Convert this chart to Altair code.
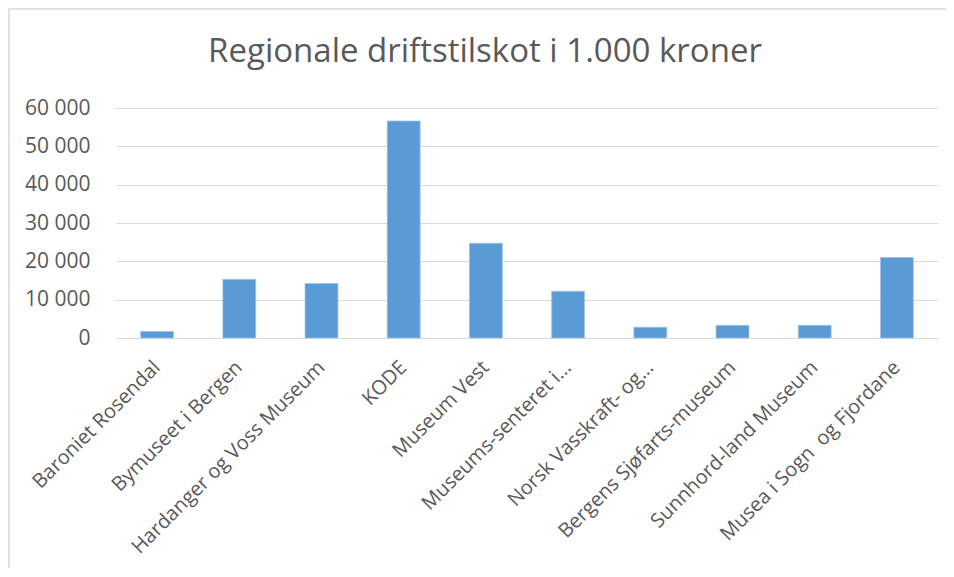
import altair as alt
import pandas as pd

categories = [
    "Baroniet Rosendal",
    "Bymuseet i Bergen",
    "Hardanger og Voss Museum",
    "KODE",
    "Museum Vest",
    "Museums-senteret i…",
    "Norsk Vasskraft- og…",
    "Bergens Sjøfarts-museum",
    "Sunnhord-land Museum",
    "Musea i Sogn \u00a0og Fjordane",
]
values = [1700, 15300, 14200, 56600, 24700, 12200, 2800, 3300, 3300, 21000]
y_ticks = [0, 10000, 20000, 30000, 40000, 50000, 60000]

df = pd.DataFrame({"museum": categories, "tilskot": values})

FONT = "Open Sans"
TXT = "#595959"
GRID = "#d9d9d9"

bars = alt.Chart(df).mark_bar(color="#5B9BD5", stroke="#9DC3E6", strokeWidth=0.8).encode(
    x=alt.X(
        "museum:N",
        sort=categories,
        title=None,
        scale=alt.Scale(paddingInner=0.6, paddingOuter=0.3),
        axis=alt.Axis(
            labelAngle=-45,
            labelAlign="right",
            labelBaseline="middle",
            labelPadding=26,
            labelOffset=0,
            ticks=False,
            domainColor=GRID,
            labelColor=TXT,
            labelFont=FONT,
            labelFontSize=20,
            labelLimit=500,
            grid=False,
        ),
    ),
    y=alt.Y(
        "tilskot:Q",
        title=None,
        scale=alt.Scale(domain=[0, 60000]),
        axis=alt.Axis(
            values=y_ticks,
            labelExpr="replace(format(datum.value, ','), regexp(',', 'g'), ' ')",
            ticks=False,
            domain=False,
            gridColor=GRID,
            labelColor=TXT,
            labelFont=FONT,
            labelFontSize=21,
            labelPadding=26,
        ),
    ),
)

frame = alt.Chart(pd.DataFrame({"a": [0]})).mark_rect(
    fillOpacity=0, stroke=GRID, strokeWidth=1.5
).encode(
    x=alt.value(-107), x2=alt.value(840), y=alt.value(-99), y2=alt.value(470)
)

chart = (
    alt.layer(frame, bars)
    .properties(
        width=822,
        height=230,
        autosize=alt.AutoSizeParams(type="none"),
        padding={"left": 108, "top": 100, "right": 8, "bottom": 230},
        title=alt.TitleParams(
            "Regionale driftstilskot i 1.000 kroner",
            font=FONT,
            fontSize=33,
            fontWeight="normal",
            color=TXT,
            anchor="middle",
            dx=-42,
            baseline="alphabetic",
            offset=-87,
        ),
    )
    .configure_view(stroke=None)
)

chart.save("out.html", embed_options={"renderer": "svg", "actions": False})
